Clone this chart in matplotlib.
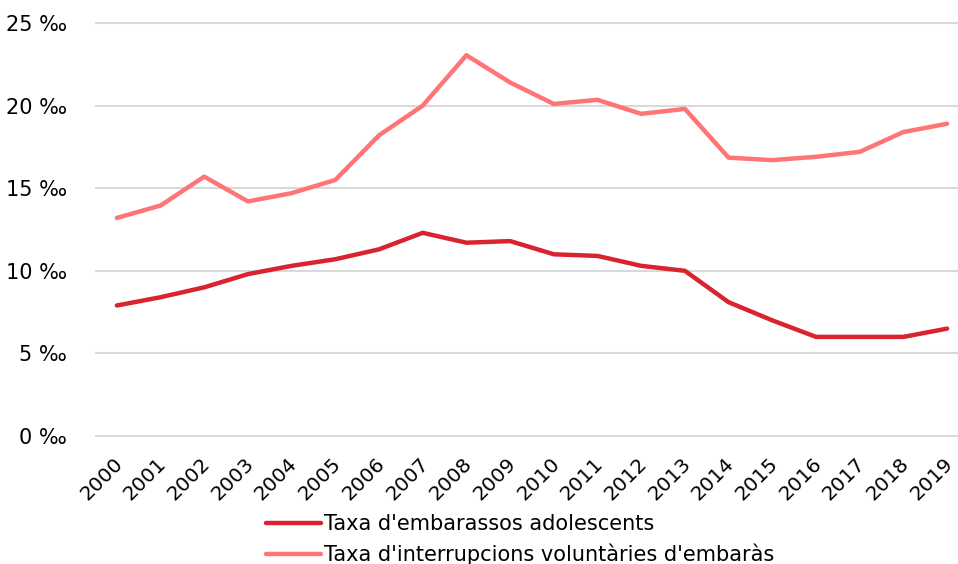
import matplotlib
matplotlib.use('Agg')
import matplotlib.pyplot as plt
from matplotlib.transforms import ScaledTranslation

years = [str(y) for y in range(2000, 2020)]
adolescents = [7.9, 8.4, 9.0, 9.8, 10.3, 10.7, 11.3, 12.3, 11.7, 11.8,
               11.0, 10.9, 10.3, 10.0, 8.1, 7.0, 6.0, 6.0, 6.0, 6.5]
ive = [13.2, 13.95, 15.7, 14.2, 14.7, 15.5, 18.2, 20.0, 23.05, 21.4,
       20.1, 20.35, 19.5, 19.8, 16.85, 16.7, 16.9, 17.2, 18.4, 18.9]
yticks = [0, 5, 10, 15, 20, 25]
labels = ["Taxa d'embarassos adolescents", "Taxa d'interrupcions voluntàries d'embaràs"]

plt.rcParams['font.family'] = ['DejaVu Sans']
fig = plt.figure(figsize=(9.58, 5.64), dpi=100)
ax = fig.add_axes([95/958, 1 - 437/564, 863/958, (437 - 22)/564])

x = list(range(len(years)))
ax.plot(x, adolescents, color='#D9232E', lw=3.2, label=labels[0], solid_capstyle='round')
ax.plot(x, ive, color='#FF7575', lw=3.2, label=labels[1], solid_capstyle='round')

ax.set_xlim(-0.5, 19.25)
ax.set_ylim(-0.06, 25.06)
ax.set_yticks(yticks)
ax.set_yticklabels([f'{v} ‰' for v in yticks], fontsize=15)
ax.set_xticks(x)
ax.set_xticklabels(years, rotation=45, ha='right', rotation_mode='anchor', fontsize=14.5)
ax.tick_params(length=0, pad=12)
ax.tick_params(axis='y', pad=20)
shift = ScaledTranslation(-4/100, 0, fig.dpi_scale_trans)
for lab in ax.get_xticklabels():
    lab.set_transform(lab.get_transform() + shift)
ax.grid(axis='y', color='#D9D9D9', lw=1.5)
ax.set_axisbelow(True)
for s in ax.spines.values():
    s.set_visible(False)

fig.legend(loc='upper left', bbox_to_anchor=(256/958, 1 - 504/564), frameon=False,
           fontsize=15, handlelength=2.6, handletextpad=0.15, labelspacing=0.45, borderpad=0)

fig.savefig('out.png', dpi=100)
